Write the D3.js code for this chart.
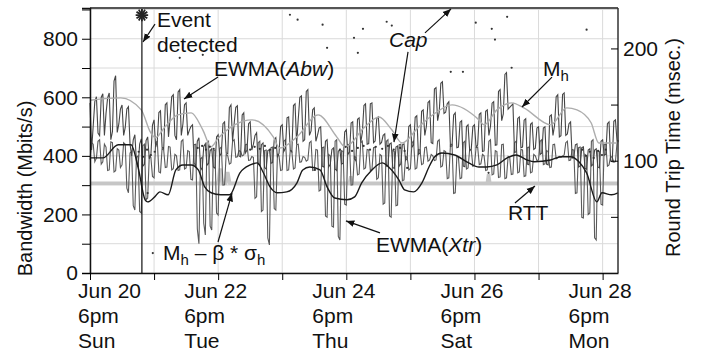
<!DOCTYPE html>
<html>
<head>
<meta charset="utf-8">
<script src="https://cdn.jsdelivr.net/npm/d3@7"></script>
<style>
  body { margin: 0; background: #fff; }
  text { font-family: Arial, "Liberation Sans", Helvetica, sans-serif; fill: #111; }
</style>
</head>
<body>
<svg id="chart" width="707" height="353"></svg>
<script>
// time is in days after Jun 20 6pm; noisy series sampled every 0.05 day,
// the *Mid arrays hold the readings half way between two samples
const sampleStep = 0.05;

// EWMA(Abw), Mbits/s
const abw = [
  581, 502, 602, 469, 612, 545, 615, 483, 674, 509,
  574, 497, 568, 400, 472, 362, 458, 371, 465, 402,
  523, 450, 554, 424, 581, 528, 609, 455, 626, 509,
  581, 487, 506, 366, 462, 352, 441, 374, 424, 358,
  472, 409, 516, 407, 574, 511, 571, 397, 547, 420,
  516, 439, 479, 368, 444, 355, 421, 377, 462, 409,
  506, 426, 533, 414, 578, 525, 605, 455, 626, 485,
  564, 470, 499, 362, 455, 371, 427, 350, 421, 375,
  489, 413, 516, 383, 530, 480, 578, 442, 581, 451,
  533, 446, 475, 369, 444, 357, 434, 373, 441, 392,
  506, 437, 537, 410, 557, 501, 588, 442, 633, 550,
  653, 549, 585, 434, 547, 430, 520, 363, 506, 423,
  506, 437, 547, 417, 557, 501, 585, 438, 626, 543,
  684, 566, 578, 414, 533, 430, 527, 370, 513, 426,
  499, 409, 499, 369, 540, 504, 609, 469, 615, 475,
  516, 395, 441, 366, 431, 354, 424, 371, 424, 359,
  455, 406, 516, 380, 523, 453
];
const abwMid = [
  420, 585, 478, 600, 470, 598, 455, 655, 480, 560,
  470, 560, 440, 455, 380, 440, 365, 452, 390, 505,
  430, 548, 430, 575, 465, 602, 470, 618, 470, 575,
  470, 500, 375, 450, 360, 432, 368, 418, 362, 465,
  400, 510, 410, 565, 450, 566, 400, 540, 410, 510,
  420, 470, 372, 438, 360, 418, 375, 455, 395, 500,
  415, 530, 420, 572, 440, 600, 450, 620, 470, 558,
  450, 495, 365, 450, 362, 422, 355, 416, 372, 482,
  405, 512, 390, 525, 445, 572, 440, 578, 445, 528,
  440, 470, 365, 440, 360, 430, 365, 438, 385, 500,
  430, 532, 405, 552, 470, 582, 445, 628, 520, 648,
  545, 578, 432, 540, 428, 515, 365, 500, 418, 500,
  430, 542, 415, 552, 470, 580, 436, 620, 520, 678,
  560, 572, 412, 528, 428, 522, 372, 508, 422, 495,
  405, 495, 372, 535, 470, 602, 465, 610, 470, 510,
  392, 438, 362, 428, 358, 420, 366, 420, 362, 450,
  402, 510, 382, 518, 450
];

// EWMA(Xtr), Mbits/s
const xtr = [
  386, 440, 392, 455, 380, 430, 352, 445, 349, 420,
  369, 440, 274, 415, 215, 400, 205, 440, 256, 395,
  325, 450, 342, 420, 362, 430, 356, 400, 352, 455,
  359, 415, 318, 440, 100, 395, 130, 450, 147, 420,
  198, 430, 301, 400, 376, 455, 397, 415, 403, 440,
  386, 395, 260, 450, 215, 420, 96, 430, 215, 400,
  352, 455, 352, 415, 359, 440, 380, 395, 386, 450,
  352, 420, 284, 430, 191, 400, 157, 455, 113, 415,
  232, 440, 301, 395, 338, 450, 359, 420, 352, 430,
  325, 400, 239, 455, 191, 415, 232, 440, 318, 395,
  356, 450, 359, 420, 373, 430, 386, 400, 386, 455,
  366, 415, 325, 440, 274, 395, 325, 450, 359, 420,
  369, 430, 373, 400, 352, 455, 338, 415, 328, 440,
  325, 395, 338, 450, 345, 420, 332, 430, 345, 400,
  386, 455, 373, 415, 362, 440, 393, 395, 403, 450,
  386, 420, 274, 430, 188, 400, 205, 455, 113, 415,
  232, 440, 369, 395, 380, 450
];
const xtrMid = [
  445, 380, 450, 372, 440, 350, 448, 345, 425, 360,
  445, 290, 410, 230, 395, 210, 435, 250, 400, 330,
  445, 345, 425, 360, 432, 352, 405, 350, 450, 355,
  418, 320, 438, 150, 390, 170, 445, 160, 418, 205,
  425, 300, 405, 372, 450, 395, 418, 400, 438, 385,
  398, 255, 445, 210, 418, 120, 428, 220, 405, 350,
  450, 350, 418, 355, 438, 378, 398, 382, 445, 350,
  422, 280, 428, 195, 405, 160, 450, 125, 418, 235,
  438, 300, 398, 335, 445, 355, 422, 350, 428, 320,
  405, 235, 450, 195, 418, 230, 438, 315, 398, 352,
  445, 355, 422, 370, 428, 382, 405, 384, 450, 362,
  418, 322, 438, 272, 398, 322, 445, 355, 422, 365,
  428, 370, 405, 350, 450, 335, 418, 326, 438, 322,
  398, 336, 445, 342, 422, 330, 428, 342, 405, 384,
  450, 370, 418, 360, 438, 390, 398, 400, 445, 384,
  422, 272, 428, 190, 405, 200, 450, 120, 418, 235,
  438, 365, 398, 378, 445
];

// M_h
const mhDays = [0, 0.48, 0.8, 0.94, 1.02, 1.17, 1.37, 1.58, 1.76, 1.89, 2.0, 2.25, 2.53, 2.86, 2.96,
  3.23, 3.56, 3.85, 3.98, 4.29, 4.51, 4.71, 4.87, 5.13, 5.4, 5.65, 6.07, 6.15, 6.35, 6.58, 6.77,
  7.19, 7.44, 7.6, 7.82, 7.94, 8.24];
const mhVals = [590, 598, 557, 482, 462, 499, 540, 547, 489, 431, 460, 505, 523, 465, 427,
  465, 540, 465, 431, 499, 533, 489, 444, 499, 548, 574, 523, 506, 557, 581, 564,
  506, 564, 557, 513, 444, 444];

// M_h - beta * sigma_h
const mbsDays = [0, 0.2, 0.44, 0.64, 0.75, 0.86, 0.9, 1.01, 1.09, 1.22, 1.34, 1.45, 1.58, 1.69, 1.79,
  1.89, 2.04, 2.18, 2.34, 2.5, 2.61, 2.7, 2.81, 2.92, 3.07, 3.23, 3.32, 3.43, 3.59, 3.7, 3.82,
  4.01, 4.13, 4.24, 4.4, 4.56, 4.66, 4.82, 4.91, 5.05, 5.18, 5.29, 5.38, 5.49, 5.69, 5.91,
  6.07, 6.19, 6.35, 6.51, 6.65, 6.82, 6.93, 7.19, 7.35, 7.5, 7.63, 7.75, 7.91, 7.99, 8.14, 8.24];
const mbsVals = [393, 393, 438, 438, 362, 250, 243, 260, 277, 267, 352, 369, 369, 352, 294,
  274, 267, 267, 342, 369, 376, 345, 294, 274, 277, 308, 352, 362, 352, 294, 256,
  250, 260, 308, 352, 376, 362, 318, 284, 277, 308, 362, 397, 410, 403, 376,
  362, 362, 369, 393, 403, 386, 380, 386, 397, 397, 380, 342, 243, 274, 267, 274];

// RTT, msec (right axis)
const rttDays = [0, 2.0, 2.03, 2.06, 2.12, 2.15, 2.18, 4.05, 4.07, 4.09, 6.2, 6.22, 6.24, 8.24];
const rttVals = [80, 80, 93, 80, 80, 90, 80, 80, 86, 80, 80, 88, 80, 80];

// Cap estimates, Mbits/s
const capDays = [1.40, 1.76, 3.12, 3.24, 3.63, 3.70, 4.12, 4.18, 4.26, 4.63, 4.71, 5.63, 5.82, 6.02,
  6.27, 6.32, 6.51, 6.58, 7.75,
  0.76, 0.83, 0.89, 0.95, 1.01, 1.68, 1.75, 1.81, 1.87, 1.93, 2.50, 2.57, 2.65, 2.73, 2.81, 2.89,
  3.90, 3.99, 4.09, 4.18, 4.27, 4.37, 4.46, 4.56, 4.65, 4.74, 4.84, 4.91,
  7.68, 7.74, 7.80, 7.86, 7.93, 7.99, 8.05,
  0.90, 0.98, 4.95, 3.51, 6.22];
const capVals = [735, 745, 882, 865, 848, 769, 803, 752, 834, 858, 845, 687, 687, 855,
  834, 797, 875, 701, 831,
  414, 397, 421, 403, 414, 427, 434, 421, 431, 424, 421, 431, 424, 434, 421, 427,
  421, 431, 417, 427, 434, 421, 431, 424, 434, 421, 427, 417,
  421, 400, 414, 393, 417, 403, 421,
  273, 68, 359, 352, 342];

const eventDay = 0.81;
const dayTicks = [0, 1, 2, 3, 4, 5, 6, 7, 8];
const labelDays = [0, 2, 4, 6, 8];
const tickLabels = [
  ['Jun 20', '6pm', 'Sun'],
  ['Jun 22', '6pm', 'Tue'],
  ['Jun 24', '6pm', 'Thu'],
  ['Jun 26', '6pm', 'Sat'],
  ['Jun 28', '6pm', 'Mon']
];
const bwTicks = [0, 100, 200, 300, 400, 500, 600, 700, 800, 900];
const rttTicks = [50, 100, 150, 200];

const margin = { top: 8, right: 89, bottom: 80, left: 90 };
const W = 707, H = 353;
const svg = d3.select('#chart');

const x = d3.scaleLinear().domain([0, 8.24]).range([margin.left, W - margin.right]);
const y = d3.scaleLinear().domain([0, 905]).range([H - margin.bottom, margin.top]);
const yR = d3.scaleLinear().domain([0, 236]).range([H - margin.bottom, margin.top]);

// put the half-step readings between the main ones
function weave(main, mid) {
  const out = [];
  main.forEach((v, i) => {
    out.push([i * sampleStep, v]);
    if (i < mid.length) out.push([(i + 0.5) * sampleStep, mid[i]]);
  });
  return out;
}

svg.append('defs').append('marker')
  .attr('id', 'ah').attr('viewBox', '0 0 10 10')
  .attr('refX', 10).attr('refY', 5)
  .attr('markerWidth', 7).attr('markerHeight', 7)
  .attr('orient', 'auto')
  .append('path').attr('d', 'M0,1 L10,5 L0,9 z').attr('fill', '#111');

// grid
const grid = svg.append('g');
grid.selectAll('line.h').data(bwTicks).enter().append('line')
  .attr('x1', x(0)).attr('x2', x(8.24))
  .attr('y1', d => y(d)).attr('y2', d => y(d))
  .attr('stroke', '#dadada').attr('stroke-width', 1);
grid.selectAll('line.v').data(dayTicks).enter().append('line')
  .attr('x1', d => x(d)).attr('x2', d => x(d))
  .attr('y1', y(0)).attr('y2', margin.top)
  .attr('stroke', '#dadada').attr('stroke-width', 1);

// RTT
const rttLine = d3.line().x((d, i) => x(rttDays[i])).y(d => yR(d));
svg.append('path').datum(rttVals)
  .attr('d', rttLine)
  .attr('fill', 'none').attr('stroke', '#c6c6c6').attr('stroke-width', 3.5);

// noisy series
const noisy = d3.line().x(d => x(d[0])).y(d => y(d[1]));
svg.append('path').datum(weave(xtr, xtrMid))
  .attr('d', noisy)
  .attr('fill', 'none').attr('stroke', '#5a5a5a').attr('stroke-width', 1.1);
svg.append('path').datum(weave(abw, abwMid))
  .attr('d', noisy)
  .attr('fill', 'none').attr('stroke', '#454545').attr('stroke-width', 1.1);

// Mh
const mhLine = d3.line().x((d, i) => x(mhDays[i])).y(d => y(d)).curve(d3.curveMonotoneX);
svg.append('path').datum(mhVals)
  .attr('d', mhLine)
  .attr('fill', 'none').attr('stroke', '#adadad').attr('stroke-width', 1.4);

// cap dots
svg.append('g').selectAll('circle').data(capVals).enter().append('circle')
  .attr('cx', (d, i) => x(capDays[i]))
  .attr('cy', d => y(d))
  .attr('r', 1.1)
  .attr('fill', '#333');

// Mh - beta*sigma
const mbsLine = d3.line().x((d, i) => x(mbsDays[i])).y(d => y(d)).curve(d3.curveMonotoneX);
svg.append('path').datum(mbsVals)
  .attr('d', mbsLine)
  .attr('fill', 'none').attr('stroke', '#1a1a1a').attr('stroke-width', 1.4);

// event line and star
svg.append('line')
  .attr('x1', x(eventDay)).attr('x2', x(eventDay))
  .attr('y1', y(0)).attr('y2', margin.top)
  .attr('stroke', '#111').attr('stroke-width', 1.2);
[0, 30].forEach(a => {
  svg.append('path')
    .attr('d', d3.symbol(d3.symbolAsterisk, 110)())
    .attr('transform', `translate(${x(eventDay)},${y(881)}) rotate(${a})`)
    .attr('stroke', '#222').attr('stroke-width', 1.8).attr('fill', 'none');
});

// frame
svg.append('line').attr('x1', x(0)).attr('x2', x(8.24)).attr('y1', margin.top).attr('y2', margin.top)
  .attr('stroke', '#555').attr('stroke-width', 2);
svg.append('line').attr('x1', x(8.24)).attr('x2', x(8.24)).attr('y1', margin.top).attr('y2', y(0))
  .attr('stroke', '#333').attr('stroke-width', 1.5);

// axes
const fs = '21px';
const ax = svg.append('g').attr('transform', `translate(${margin.left},0)`)
  .call(d3.axisLeft(y).tickValues(bwTicks).tickFormat(d => d % 200 === 0 ? d : '').tickSize(8).tickPadding(4));
ax.select('.domain').attr('stroke', '#111').attr('stroke-width', 1.5);
ax.selectAll('text').style('font-size', fs).attr('fill', '#111');

const axR = svg.append('g').attr('transform', `translate(${x(8.24)},0)`)
  .call(d3.axisRight(yR).tickValues(rttTicks).tickFormat(d => d % 100 === 0 ? d : '').tickSizeInner(-7).tickSizeOuter(0).tickPadding(5));
axR.select('.domain').remove();
axR.selectAll('text').style('font-size', fs).attr('fill', '#111');

const axB = svg.append('g').attr('transform', `translate(0,${y(0)})`)
  .call(d3.axisBottom(x).tickValues(dayTicks).tickFormat('').tickSize(7).tickSizeOuter(0));
axB.select('.domain').attr('stroke', '#111').attr('stroke-width', 1.5);

const xl = svg.append('g');
labelDays.forEach((d, i) => {
  const t = xl.append('text')
    .attr('x', Math.max(78, x(d) - 34))
    .attr('y', y(0) + 25)
    .style('font-size', fs);
  tickLabels[i].forEach((s, j) => {
    t.append('tspan').attr('x', Math.max(78, x(d) - 34)).attr('dy', j === 0 ? 0 : 25).text(s);
  });
});

// axis titles
svg.append('text')
  .attr('transform', `translate(32,${(margin.top + y(0)) / 2 + 48}) rotate(-90)`)
  .attr('text-anchor', 'middle').style('font-size', '20px')
  .text('Bandwidth (Mbits/s)');
svg.append('text')
  .attr('transform', `translate(680,${(margin.top + y(0)) / 2 + 7}) rotate(-90)`)
  .attr('text-anchor', 'middle').style('font-size', '20px')
  .text('Round Trip Time (msec.)');

// annotations (positions in data units: day, Mbits/s)
const arrows = [
  [1.014, 850, 0.827, 789],
  [1.998, 669, 1.467, 594],
  [4.963, 755, 4.744, 447],
  [5.228, 820, 5.634, 902],
  [7.210, 669, 6.742, 567],
  [6.632, 239, 6.944, 297],
  [4.526, 137, 3.995, 178],
  [1.998, 106, 2.216, 273]
];
svg.append('g').selectAll('line').data(arrows).enter().append('line')
  .attr('x1', d => x(d[0])).attr('y1', d => y(d[1]))
  .attr('x2', d => x(d[2])).attr('y2', d => y(d[3]))
  .attr('stroke', '#111').attr('stroke-width', 1.2)
  .attr('marker-end', 'url(#ah)');

const notes = [
  { d: 1.046, v: 840, parts: [{ t: 'Event' }] },
  { d: 1.046, v: 755, parts: [{ t: 'detected' }] },
  { d: 1.935, v: 673, parts: [{ t: 'EWMA(' }, { t: 'Abw', i: true }, { t: ')' }] },
  { d: 4.666, v: 772, parts: [{ t: 'Cap', i: true }] },
  { d: 7.069, v: 673, parts: [{ t: 'M' }, { t: 'h', sub: true }] },
  { d: 6.523, v: 181, parts: [{ t: 'RTT' }] },
  { d: 4.463, v: 72, parts: [{ t: 'EWMA(' }, { t: 'Xtr', i: true }, { t: ')' }] },
  { d: 1.139, v: 44, parts: [{ t: 'M' }, { t: 'h', sub: true }, { t: ' \u2013 \u03b2 * \u03c3' }, { t: 'h', sub: true }] }
];
notes.forEach(n => {
  const t = svg.append('text').attr('x', x(n.d)).attr('y', y(n.v)).style('font-size', fs);
  let shifted = false;
  n.parts.forEach(p => {
    const s = t.append('tspan').text(p.t);
    if (p.i) s.attr('font-style', 'italic');
    if (p.sub) { s.style('font-size', '15px').attr('dy', 5); shifted = true; }
    else if (shifted) { s.attr('dy', -5); shifted = false; }
  });
});
</script>
</body>
</html>
